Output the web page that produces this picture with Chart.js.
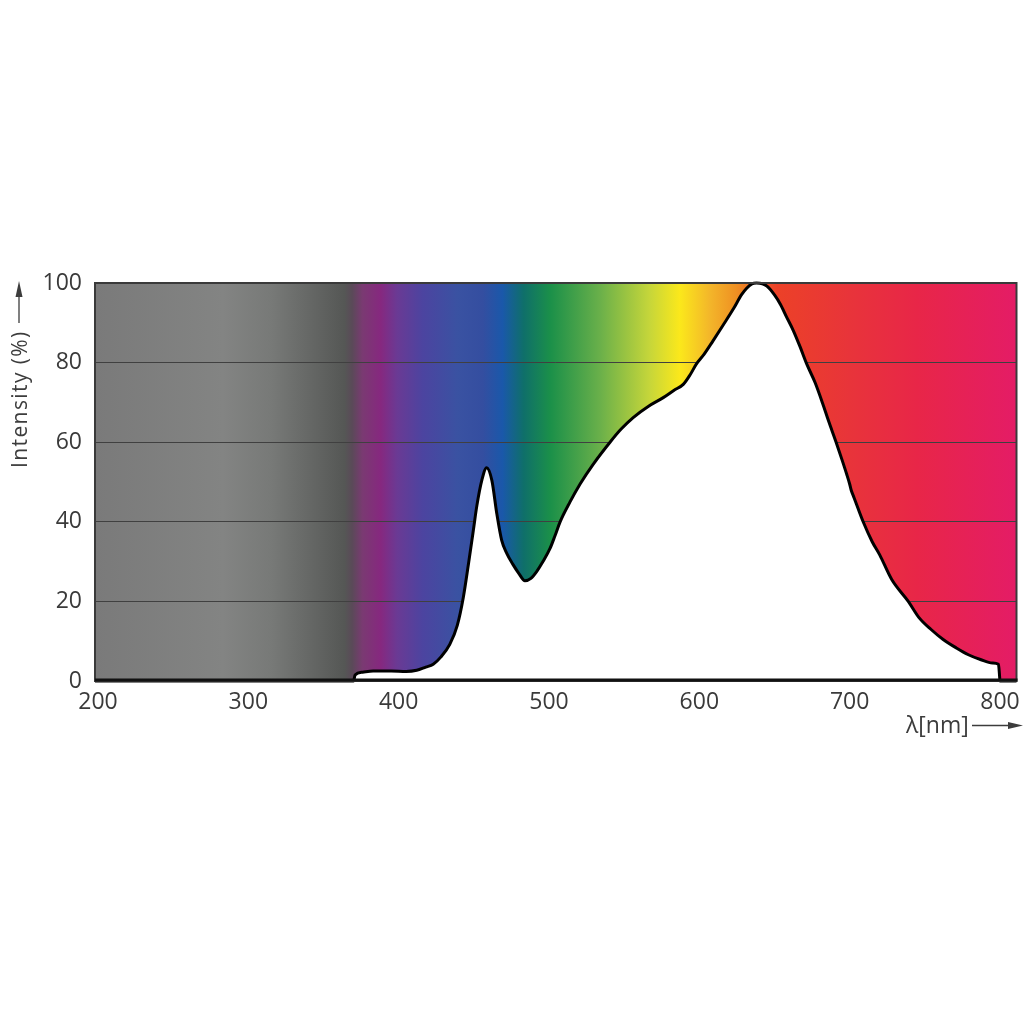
<!DOCTYPE html>
<html>
<head>
<meta charset="utf-8">
<script src="https://cdn.jsdelivr.net/npm/chart.js@4/dist/chart.umd.min.js"></script>
<style>
  html, body { margin: 0; padding: 0; background: #ffffff; }
  #wrap { width: 1024px; height: 1024px; position: relative; }
</style>
</head>
<body>
<div id="wrap"><canvas id="c" width="1024" height="1024"></canvas></div>
<script>
// ---- data ----
const wavelengths = [198, 370, 371, 376, 383, 395, 405, 412, 418, 423, 428, 434, 439, 443, 446.5, 449.7, 452, 455.3, 458.5, 462, 465.3, 468.5, 472, 476, 480, 484, 488, 491.8, 496, 500.7, 504, 507.4, 514, 520.7, 529.5, 540.6, 548, 556, 566, 576, 583, 589.5, 594, 598, 603, 609, 616, 623, 628, 631.5, 635, 638, 642, 645, 650, 654, 658, 662.6, 667, 671.5, 677, 682, 686, 691, 695, 698, 700, 701, 703, 709, 715, 720, 728, 739, 746, 754, 762, 771, 779, 787, 795, 799, 799.7, 800, 811];
const intensity   = [0,   0,   1.5, 2.2, 2.5, 2.5, 2.4, 2.7, 3.5, 4.2, 6.0, 9.2, 14,  21,  29.6,  37.9,  44,  50.4,  53.6,  50.4, 42,    35.4,  32,   29.3, 27,  25.2, 25.8, 27.5, 30,  33.3,  36.5, 40,   45,  49.5,  54.5,  60,    63.3, 66.2, 69,  71.2, 73,  74.6,  77,  79.6, 82,  85.4, 89.5, 93.7, 97, 98.7, 99.8, 100, 99.8, 99.2, 97, 94.6, 91.5, 88, 84, 79.6, 75, 69.8, 65.3, 60, 55.5, 52, 49.5, 48, 46, 40, 35, 31.7, 25.5, 20, 16, 13, 10.5, 8.3, 6.6, 5.4, 4.5, 4.2, 1.5, 0, 0];
const xTicks = [200, 300, 400, 500, 600, 700, 800];
const yTicks = [0, 20, 40, 60, 80, 100];
const xMin = 198, xMax = 811;
const yMin = 0, yMax = 100;
const yTitle = 'Intensity (%)';
const xTitle = 'λ[nm]';

// background spectrum colours (wavelength stop, colour)
const spectrumStops = [198, 283, 316, 350, 364, 369, 376, 388, 399, 416, 439, 456, 469, 483, 501, 534, 567, 587, 607, 625, 640, 652, 700, 745, 811];
const spectrumColors = ['#7a7a7a', '#838483', '#777977', '#5f615f', '#555755', '#5a4a58', '#7a3a72', '#86287f', '#6a3a94', '#4c44a0', '#3a52a2', '#344ea0', '#1a58aa', '#0f6f6a', '#1b9049', '#6ab04a', '#c6d63a', '#fbe81b', '#f3b62a', '#ef8f22', '#ec5a28', '#ec4128', '#e8343a', '#e82648', '#e41c66'];

const points = wavelengths.map((w, i) => ({ x: w, y: intensity[i] }));

const spectrumBg = {
  id: 'spectrumBg',
  beforeDraw(chart) {
    const { ctx, chartArea: a, scales } = chart;
    const g = ctx.createLinearGradient(a.left, 0, a.right, 0);
    spectrumStops.forEach((w, i) => {
      const p = (scales.x.getPixelForValue(w) - a.left) / (a.right - a.left);
      g.addColorStop(Math.min(1, Math.max(0, p)), spectrumColors[i]);
    });
    ctx.save();
    ctx.fillStyle = g;
    ctx.fillRect(a.left, a.top, a.right - a.left, a.bottom - a.top);
    ctx.restore();
  }
};

const frameAndTitles = {
  id: 'frameAndTitles',
  afterDraw(chart) {
    const { ctx, chartArea: a } = chart;
    ctx.save();
    // frame
    ctx.strokeStyle = '#3a3a3a';
    ctx.lineWidth = 2;
    ctx.strokeRect(a.left, a.top, a.right - a.left, a.bottom - a.top);
    ctx.strokeStyle = '#111111';
    ctx.lineWidth = 3;
    ctx.beginPath();
    ctx.moveTo(a.left, a.bottom - 1);
    ctx.lineTo(a.right + 1, a.bottom - 1);
    ctx.stroke();

    ctx.fillStyle = '#3c3c3c';
    ctx.strokeStyle = '#3c3c3c';
    // y title (rotated) with arrow
    ctx.save();
    ctx.font = '21px "Open Sans", "DejaVu Sans", sans-serif';
    try { ctx.letterSpacing = '1.4px'; } catch (e) {}
    ctx.translate(27, 468);
    ctx.rotate(-Math.PI / 2);
    ctx.textAlign = 'left';
    ctx.textBaseline = 'alphabetic';
    ctx.fillText(yTitle, 0, 0);
    ctx.restore();
    ctx.lineWidth = 1.3;
    ctx.beginPath();
    ctx.moveTo(19, 323);
    ctx.lineTo(19, 290);
    ctx.stroke();
    ctx.beginPath();
    ctx.moveTo(19, 281);
    ctx.lineTo(15.5, 297);
    ctx.lineTo(22.5, 297);
    ctx.closePath();
    ctx.fill();

    // x title with arrow
    ctx.font = '23px "Open Sans", "DejaVu Sans", sans-serif';
    ctx.textAlign = 'left';
    ctx.textBaseline = 'alphabetic';
    ctx.fillText(xTitle, 906, 733);
    ctx.beginPath();
    ctx.moveTo(972, 725.5);
    ctx.lineTo(1010, 725.5);
    ctx.stroke();
    ctx.beginPath();
    ctx.moveTo(1023, 725.5);
    ctx.lineTo(1008, 722);
    ctx.lineTo(1008, 729);
    ctx.closePath();
    ctx.fill();
    ctx.restore();
  }
};

new Chart(document.getElementById('c'), {
  type: 'line',
  data: {
    datasets: [{
      data: points,
      borderColor: '#000000',
      borderWidth: 3,
      backgroundColor: '#ffffff',
      fill: 'origin',
      pointRadius: 0,
      cubicInterpolationMode: 'monotone',
      clip: false
    }]
  },
  options: {
    responsive: false,
    animation: false,
    events: [],
    layout: { padding: { top: 283, right: 7.5, bottom: 273, left: 0 } },
    plugins: { legend: { display: false }, tooltip: { enabled: false } },
    scales: {
      x: {
        type: 'linear',
        min: xMin, max: xMax,
        afterBuildTicks: (s) => { s.ticks = xTicks.map(v => ({ value: v })); },
        afterFit: (s) => { s.height = 70; s.paddingLeft = 0; s.paddingRight = 0; },
        grid: { display: false, drawTicks: false },
        border: { display: false },
        ticks: { color: '#3a3a3a', font: { family: '"Open Sans", sans-serif', size: 23 }, padding: 8, maxRotation: 0, autoSkip: false }
      },
      y: {
        type: 'linear',
        min: yMin, max: yMax,
        afterBuildTicks: (s) => { s.ticks = yTicks.map(v => ({ value: v })); },
        afterFit: (s) => { s.width = 95; s.paddingTop = 0; s.paddingBottom = 0; },
        grid: { color: '#404040', lineWidth: 1, drawTicks: false },
        border: { display: false },
        ticks: { color: '#3a3a3a', font: { family: '"Open Sans", sans-serif', size: 23 }, padding: 13 }
      }
    }
  },
  plugins: [spectrumBg, frameAndTitles]
});
</script>
</body>
</html>
